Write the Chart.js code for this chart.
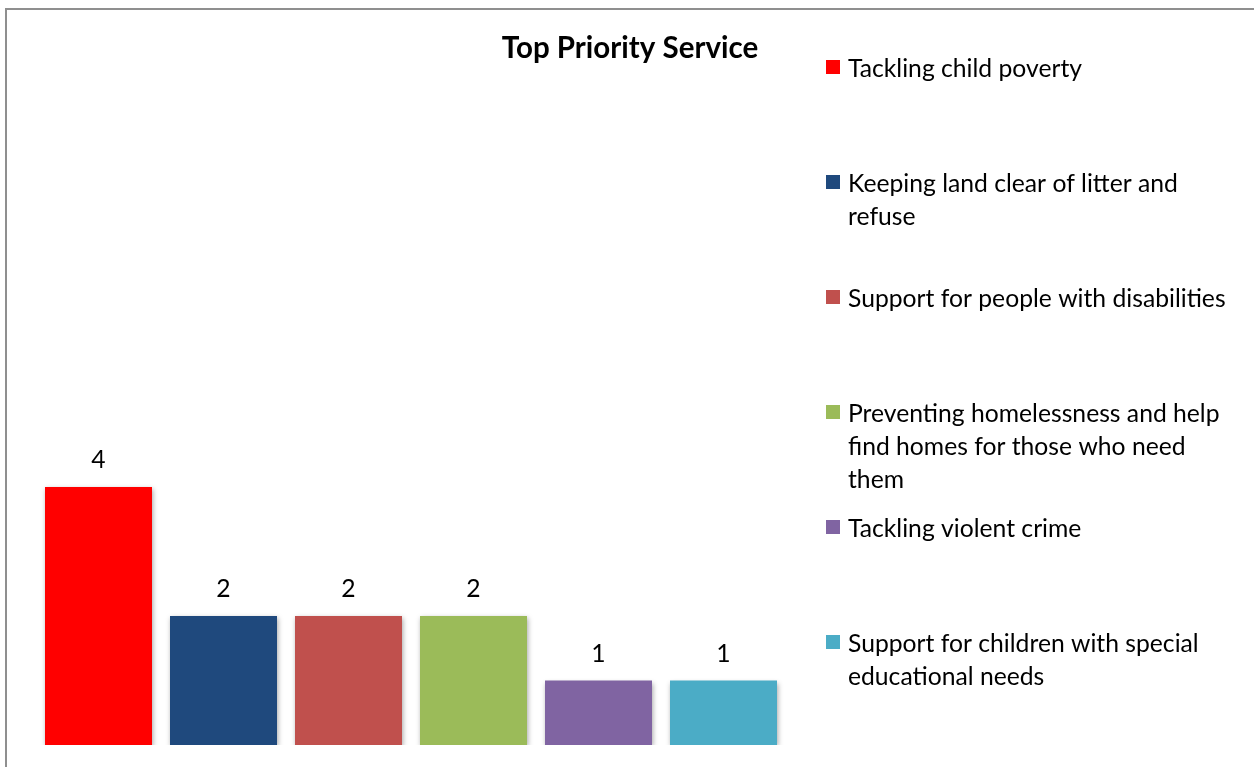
<!DOCTYPE html>
<html>
<head>
<meta charset="utf-8">
<script src="https://cdn.jsdelivr.net/npm/chart.js@4/dist/chart.umd.min.js"></script>
<style>
  html, body { margin: 0; padding: 0; background: #fff; overflow: hidden; }
  #wrap { position: relative; width: 1254px; height: 767px; overflow: hidden; }
  #frame { position: absolute; left: 5px; top: 8px; width: 1300px; height: 800px;
           border-left: 2px solid #8f8f8f; border-top: 2px solid #8f8f8f; }
  canvas { position: absolute; left: 0; top: 0; }
</style>
</head>
<body>
<div id="wrap">
  <div id="frame"></div>
  <canvas id="chart" width="1254" height="767"></canvas>
</div>
<script>
const chartTitle = 'Top Priority Service';
const services = [
  ['Tackling child poverty'],
  ['Keeping land clear of litter and', 'refuse'],
  ['Support for people with disabilities'],
  ['Preventing homelessness and help', 'find homes for those who need', 'them'],
  ['Tackling violent crime'],
  ['Support for children with special', 'educational needs']
];
const counts = [4, 2, 2, 2, 1, 1];
const colours = ['#ff0000', '#1f497d', '#c0504d', '#9bbb59', '#8064a2', '#4bacc6'];

const FONT = 'Lato, "Open Sans", sans-serif';

// bar shadow + value labels + title + legend like the excel original
const excelLook = {
  id: 'excelLook',
  beforeDatasetsDraw(chart) {
    const ctx = chart.ctx;
    ctx.save();
    ctx.shadowColor = 'rgba(0,0,0,0.35)';
    ctx.shadowBlur = 5;
    ctx.shadowOffsetX = 1;
    ctx.shadowOffsetY = 2;
  },
  afterDatasetsDraw(chart) {
    const ctx = chart.ctx;
    ctx.restore();
    ctx.save();
    ctx.fillStyle = '#000';
    ctx.font = '24.7px ' + FONT;
    ctx.textAlign = 'center';
    ctx.textBaseline = 'alphabetic';
    chart.data.datasets.forEach((ds, i) => {
      const bar = chart.getDatasetMeta(i).data[0];
      ctx.fillText(String(ds.data[0]), bar.x, bar.y - 19);
    });
    ctx.restore();
  },
  afterDraw(chart) {
    const ctx = chart.ctx;
    ctx.save();
    ctx.fillStyle = '#000';
    ctx.font = 'bold 29.5px ' + FONT;
    ctx.textAlign = 'center';
    ctx.fillText(chartTitle, 630, 58);

    ctx.font = '24.7px ' + FONT;
    ctx.textAlign = 'left';
    services.forEach((lines, i) => {
      const base = 77 + i * 115;
      ctx.fillStyle = colours[i];
      ctx.fillRect(826, base - 17, 14, 14);
      ctx.fillStyle = '#000';
      lines.forEach((ln, j) => ctx.fillText(ln, 848, base + j * 33));
    });
    ctx.restore();
  }
};

new Chart(document.getElementById('chart'), {
  type: 'bar',
  data: {
    labels: [''],
    datasets: services.map((lines, i) => ({
      label: lines.join(' '),
      data: [counts[i]],
      backgroundColor: colours[i],
      borderWidth: 0
    }))
  },
  options: {
    responsive: false,
    animation: false,
    events: [],
    categoryPercentage: 1,
    barPercentage: 0.856,
    layout: { padding: { left: 36, right: 468, top: 100, bottom: 22 } },
    scales: {
      x: { display: false },
      y: { display: false, min: 0, max: 10 }
    },
    plugins: {
      legend: { display: false },
      title: { display: false },
      tooltip: { enabled: false }
    }
  },
  plugins: [excelLook]
});
</script>
</body>
</html>
